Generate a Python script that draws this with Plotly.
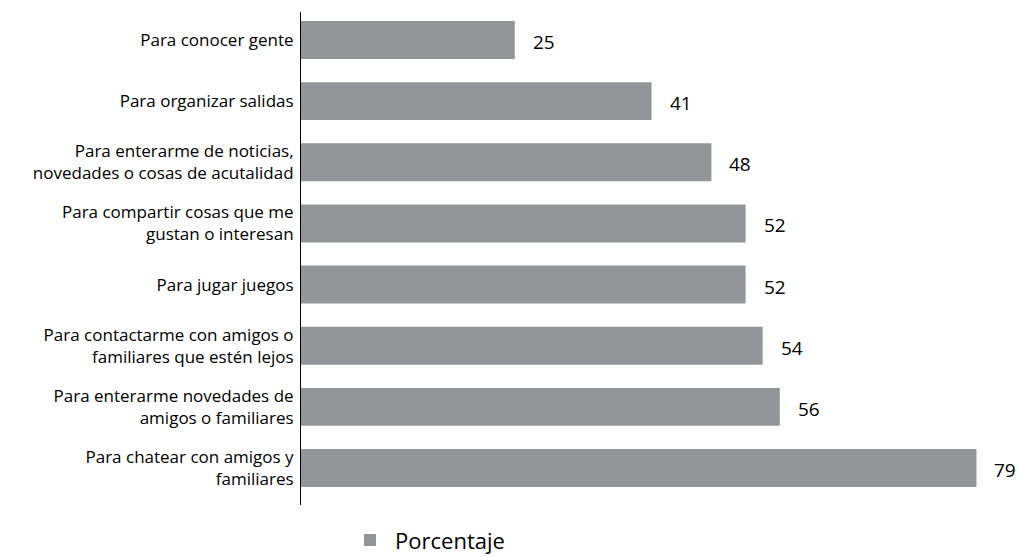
import plotly.graph_objects as go

categories = [
    "Para conocer gente",
    "Para organizar salidas",
    "Para enterarme de noticias,<br>novedades o cosas de acutalidad",
    "Para compartir cosas que me<br>gustan o interesan",
    "Para jugar juegos",
    "Para contactarme con amigos o<br>familiares que estén lejos",
    "Para enterarme novedades de<br>amigos o familiares",
    "Para chatear con amigos y<br>familiares",
]
values = [25, 41, 48, 52, 52, 54, 56, 79]
series_name = "Porcentaje"

bar_color = "#949599"
font_family = "'Open Sans', sans-serif"

fig = go.Figure()
fig.add_trace(go.Bar(
    x=values, y=categories, orientation="h", name=series_name,
    marker=dict(color=bar_color, line=dict(width=0)),
    width=0.62, showlegend=True, hoverinfo="skip",
))

for c, v in zip(categories, values):
    fig.add_annotation(x=v, y=c, text=str(v), showarrow=False,
                       xanchor="left", xshift=16, yshift=-2,
                       font=dict(size=19, color="#000000", family=font_family))

fig.update_layout(
    width=1019, height=557,
    margin=dict(l=301, r=34, t=12, b=52, autoexpand=False),
    plot_bgcolor="white", paper_bgcolor="white",
    font=dict(family=font_family, color="#000000", size=17),
    bargap=0.38,
    xaxis=dict(range=[0, 80], visible=False, showgrid=False, zeroline=False,
               automargin=False),
    yaxis=dict(autorange=False, range=[7.605, -0.458], showline=True, linecolor="#000000",
               linewidth=1, showgrid=False, ticks="", ticklabelstandoff=3,
               automargin=False, tickfont=dict(size=17, family=font_family)),
    legend=dict(orientation="h", xref="container", yref="container",
                x=0.3386, xanchor="left", y=0.03, yanchor="middle",
                font=dict(size=22, family=font_family), itemwidth=40),
)

fig.write_html("out.html",
               config={"displayModeBar": False},
               post_script="document.body.style.margin='0';document.body.style.overflow='hidden';")
